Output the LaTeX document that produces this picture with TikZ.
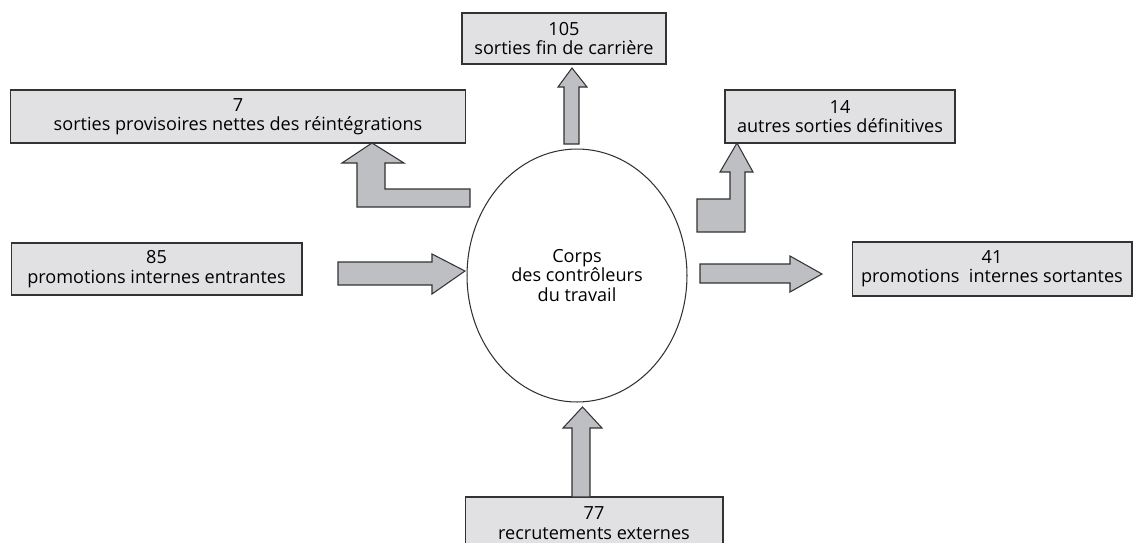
\documentclass[tikz,border=0pt]{standalone}
\usepackage{fontspec}
\setmainfont{Open Sans}
\usetikzlibrary{shapes.geometric}
\definecolor{boxgray}{HTML}{E1E1E3}
\definecolor{flowgray}{HTML}{BEBFC3}
\definecolor{edgegray}{HTML}{333333}

\begin{document}
\begin{tikzpicture}[x=0.02cm, y=-0.02cm,
    box/.style={draw=edgegray, fill=boxgray, line width=0.6pt, align=center,
        inner sep=0pt, font=\fontsize{10.3}{11}\selectfont},
    flow/.style={draw=edgegray, fill=flowgray, line width=0.6pt, line join=miter}]
    \useasboundingbox (0, 0) rectangle (1134, 542);

    % draw boxes
    \node[box, minimum width=4.08cm, minimum height=1.02cm] (fin) at (564, 38.5) {105\\sorties fin de carrière};
    \node[box, minimum width=9.12cm, minimum height=1.06cm] (prov) at (238, 116.5) {7\\sorties provisoires nettes des réintégrations};
    \node[box, minimum width=4.6cm, minimum height=1.06cm] (autres) at (840, 116.5) {14\\autres sorties définitives};
    \node[box, minimum width=5.82cm, minimum height=1.04cm] (entr) at (156.5, 269) {85\\promotions internes entrantes};
    \node[box, minimum width=5.6cm, minimum height=1.08cm] (sort) at (992, 269) {41\\promotions\ \ internes sortantes};
    \node[box, minimum width=5.16cm, minimum height=1.04cm] (recr) at (594, 523) {77\\recrutements externes};

    % draw ellipse
    \node[draw=edgegray, line width=0.6pt, ellipse, minimum width=4.4cm, minimum height=5.06cm,
        align=center, font=\fontsize{10.3}{11}\selectfont] (corps) at (577, 275.5) {Corps\\des contrôleurs\\du travail};

    % outgoing arrows
    \draw[flow] (564, 144) -- (564, 87) -- (558, 87) -- (572, 68) -- (587, 87) -- (579, 87) -- (579, 144) -- cycle;
    \draw[flow] (470, 207) -- (357, 207) -- (357, 163) -- (342, 163) -- (372, 143) -- (404, 163) -- (385, 163) -- (385, 189) -- (470, 189) -- cycle;
    \draw[flow] (697, 232) -- (697, 199) -- (730, 199) -- (730, 172) -- (720, 172) -- (737, 143) -- (753, 172) -- (745, 172) -- (745, 232) -- cycle;
    \draw[flow] (700, 264) -- (790, 264) -- (790, 256) -- (822, 274) -- (790, 292) -- (790, 283) -- (700, 283) -- cycle;

    % incoming arrows
    \draw[flow] (338, 262) -- (432, 262) -- (432, 254) -- (465, 271) -- (432, 294) -- (432, 285) -- (338, 285) -- cycle;
    \draw[flow] (572, 497) -- (572, 428) -- (563, 428) -- (582.5, 407) -- (602, 428) -- (590, 428) -- (590, 497) -- cycle;
\end{tikzpicture}
\end{document}
